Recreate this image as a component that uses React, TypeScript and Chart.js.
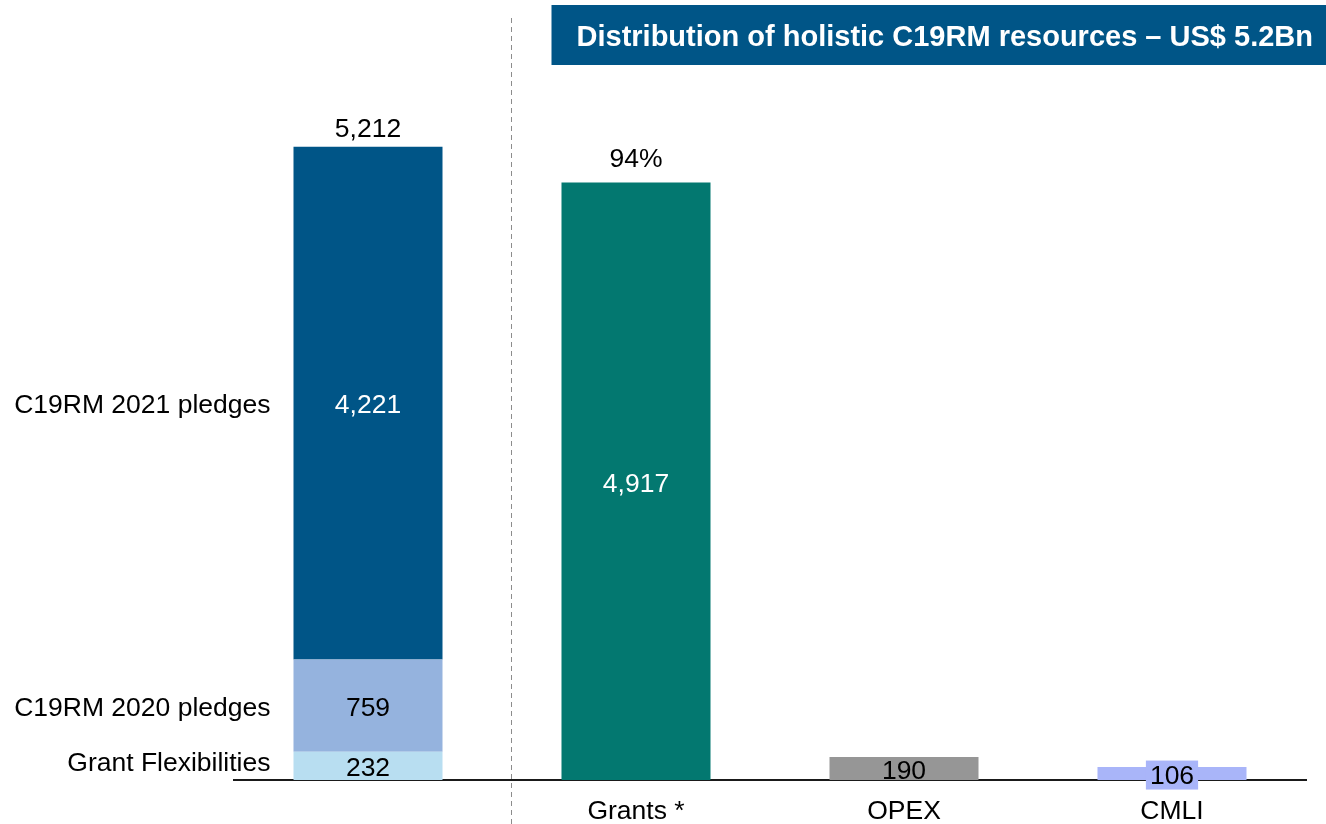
import React, { useEffect, useRef } from "react";
import { Chart, registerables } from "chart.js";

Chart.register(...registerables);

const categories = ["", "Grants *", "OPEX", "CMLI"];
const grantFlex = [232, null, null, null];
const pledges2020 = [759, null, null, null];
const pledges2021 = [4221, null, null, null];
const allocation = [null, 4917, 190, 106];
const stackLabels = ["Grant Flexibilities", "C19RM 2020 pledges", "C19RM 2021 pledges"];
const titleText = "Distribution of holistic C19RM resources \u2013 US$ 5.2Bn";

const FONT = '"Liberation Sans", Arial, sans-serif';
const C_DARK = "#005587";
const C_MID = "#95b3de";
const C_LIGHT = "#b8def1";
const C_TEAL = "#037870";
const C_GREY = "#969696";
const C_LAV = "#a9b5f9";
const DY = 3;

const fmt = (v: number) => v.toLocaleString("en-US");

const decorPlugin = {
  id: "decor",
  beforeDatasetsDraw(chart: any) {
    const ctx = chart.ctx;
    const xs = chart.scales.x;
    const dx = Math.round(xs.getPixelForValue(0.5) + 9) + 0.5;
    ctx.save();
    ctx.strokeStyle = "#8c8c8c";
    ctx.lineWidth = 1;
    ctx.setLineDash([5, 4]);
    ctx.beginPath();
    ctx.moveTo(dx, 18);
    ctx.lineTo(dx, chart.height);
    ctx.stroke();
    ctx.restore();
    const bx = dx + 40;
    ctx.save();
    ctx.fillStyle = C_DARK;
    ctx.fillRect(bx, 5, chart.width - bx, 60);
    ctx.fillStyle = "#ffffff";
    ctx.font = `bold 29px ${FONT}`;
    ctx.textAlign = "center";
    ctx.textBaseline = "middle";
    ctx.fillText(titleText, (bx + chart.width) / 2 + 6, 38);
    ctx.restore();
  },
  afterDatasetsDraw(chart: any) {
    const ctx = chart.ctx;
    ctx.save();
    ctx.font = `26.5px ${FONT}`;
    ctx.textBaseline = "middle";
    ctx.textAlign = "center";
    const stackSets = [grantFlex, pledges2020, pledges2021];
    const stackColors = ["#000", "#000", "#fff"];
    let topY = Infinity;
    let barLeft = 0;
    let barX = 0;
    let total = 0;
    for (let d = 0; d < 3; d++) {
      const el = chart.getDatasetMeta(d).data[0];
      const v = stackSets[d][0] as number;
      total += v;
      const cy = (el.y + el.base) / 2;
      ctx.fillStyle = stackColors[d];
      ctx.textAlign = "center";
      ctx.fillText(fmt(v), el.x, cy + DY);
      barLeft = el.x - el.width / 2;
      barX = el.x;
      topY = Math.min(topY, el.y);
      ctx.fillStyle = "#000";
      ctx.textAlign = "right";
      ctx.fillText(stackLabels[d], barLeft - 23, (d === 0 ? cy - 5 : cy) + DY);
    }
    ctx.textAlign = "center";
    ctx.fillStyle = "#000";
    ctx.fillText(fmt(total), barX, topY - 20 + DY);

    const meta = chart.getDatasetMeta(3);
    for (let i = 1; i < allocation.length; i++) {
      const el = meta.data[i];
      const v = allocation[i] as number;
      const cy = (el.y + el.base) / 2;
      if (i === 1) {
        ctx.fillStyle = "#fff";
        ctx.fillText(fmt(v), el.x, cy + DY);
        ctx.fillStyle = "#000";
        ctx.fillText(Math.round((v / total) * 100) + "%", el.x, el.y - 26 + DY);
      } else if (i === 2) {
        ctx.fillStyle = "#000";
        ctx.fillText(fmt(v), el.x, cy + DY);
      } else {
        const w = ctx.measureText(fmt(v)).width;
        ctx.fillStyle = C_LAV;
        ctx.fillRect(el.x - w / 2 - 4, cy - 13, w + 8, 29);
        ctx.fillStyle = "#000";
        ctx.fillText(fmt(v), el.x, cy + DY);
      }
    }
    ctx.restore();
  },
};

export default function App() {
  const ref = useRef<HTMLCanvasElement | null>(null);
  useEffect(() => {
    if (!ref.current) return;
    const chart = new Chart(ref.current, {
      type: "bar",
      data: {
        labels: categories,
        datasets: [
          { label: stackLabels[0], data: grantFlex, backgroundColor: C_LIGHT },
          { label: stackLabels[1], data: pledges2020, backgroundColor: C_MID },
          { label: stackLabels[2], data: pledges2021, backgroundColor: C_DARK },
          { label: "Allocation", data: allocation, backgroundColor: [C_TEAL, C_TEAL, C_GREY, C_LAV] },
        ],
      },
      options: {
        animation: false,
        responsive: false,
        maintainAspectRatio: false,
        layout: { padding: { left: 234, right: 20, top: 51, bottom: 0 } },
        datasets: { bar: { barPercentage: 0.556, categoryPercentage: 1 } },
        plugins: { legend: { display: false }, tooltip: { enabled: false }, title: { display: false } },
        scales: {
          x: {
            stacked: true,
            grid: { display: false, drawTicks: false },
            border: { display: true, color: "#1a1a1a", width: 2 },
            ticks: { color: "#000", padding: 16, font: { size: 26.5, family: FONT }, maxRotation: 0 },
            afterFit: (s: any) => {
              s.height = 44;
            },
          },
          y: { stacked: true, display: false, min: 0, max: 6000 },
        },
      },
      plugins: [decorPlugin],
    });
    return () => chart.destroy();
  }, []);
  return (
    <div style={{ position: "fixed", left: 0, top: 0, width: 1326, height: 824, background: "#fff" }}>
      <canvas ref={ref} width={1326} height={824} style={{ width: 1326, height: 824 }} />
    </div>
  );
}
